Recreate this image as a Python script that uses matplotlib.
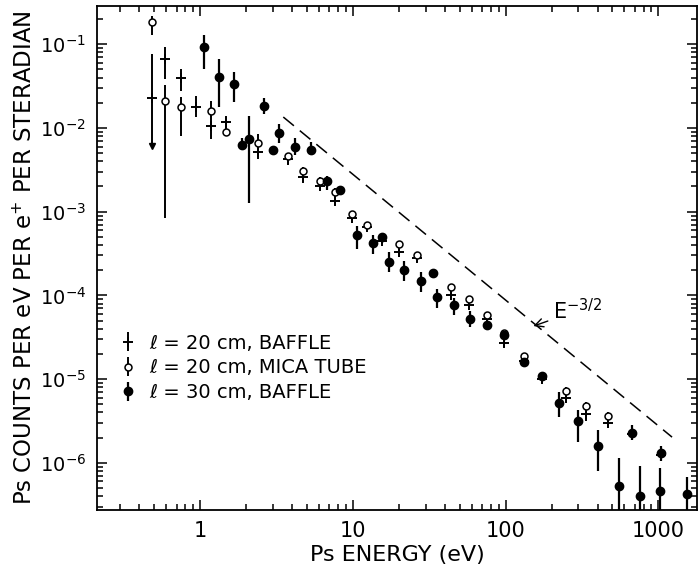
#!/usr/bin/env python3

import matplotlib
matplotlib.use('Agg')
import matplotlib.pyplot as plt
import numpy as np
from matplotlib import ticker

# l = 20 cm, baffle (crosses)
baffle20_e = [0.485, 0.59, 0.75, 0.94, 1.18, 1.48, 2.39, 3.76, 4.71, 6.09, 7.6, 9.85, 12.3, 15.5,
              20.0, 26.1, 43.6, 57.3, 75, 97, 131, 174, 250, 338, 470, 674, 1040]
baffle20_y = [0.0228, 0.066, 0.040, 0.018, 0.0106, 0.0118, 0.0052, 0.0042, 0.0026, 0.0020, 0.00135,
              8.3e-4, 6.5e-4, 4.5e-4, 3.3e-4, 2.8e-4, 1.0e-4, 7.6e-5, 5.2e-5, 2.7e-5, 1.65e-5,
              1.0e-5, 6.0e-6, 3.8e-6, 3.0e-6, 2.2e-6, 1.25e-6]
baffle20_lo = [0.0061, 0.038, 0.028, 0.0135, 0.0074, 0.0095, 0.0042, 0.0036, 0.0022, 0.0018, 0.0012,
               7.3e-4, 6.0e-4, 4.1e-4, 2.9e-4, 2.5e-4, 8.8e-5, 6.7e-5, 4.6e-5, 2.4e-5, 1.5e-5,
               9.0e-6, 5.2e-6, 3.2e-6, 2.6e-6, 1.9e-6, 1.05e-6]
baffle20_hi = [0.076, 0.092, 0.050, 0.024, 0.0139, 0.0139, 0.0068, 0.0048, 0.0029, 0.0023, 0.0016,
               9.5e-4, 7.0e-4, 5.0e-4, 3.8e-4, 3.1e-4, 1.15e-4, 8.6e-5, 5.8e-5, 3.0e-5, 1.8e-5,
               1.1e-5, 7.0e-6, 4.6e-6, 3.4e-6, 2.6e-6, 1.5e-6]
# lower limit arrow on the first baffle point
arrow_e = [0.485]
arrow_y = [0.0061]

# l = 20 cm, mica tube (open circles)
mica_e = [0.485, 0.59, 0.75, 1.18, 1.48, 2.39, 3.76, 4.71, 6.09, 7.6, 9.85, 12.3, 20.0, 26.1,
          43.6, 57.3, 75, 97, 131, 250, 338, 470]
mica_y = [0.183, 0.021, 0.0178, 0.0159, 0.0090, 0.0066, 0.0046, 0.0031, 0.00234, 0.00173, 9.5e-4,
          7.0e-4, 4.1e-4, 3.0e-4, 1.26e-4, 9.0e-5, 5.8e-5, 3.6e-5, 1.9e-5, 7.3e-6, 4.8e-6, 3.6e-6]
mica_lo = [0.128, 8.3e-4, 0.0080, 0.0135, 0.0080, 0.0058, 0.0042, 0.0028, 0.0021, 0.0016, 8.8e-4,
           6.5e-4, 3.8e-4, 2.8e-4, 1.15e-4, 8.3e-5, 5.4e-5, 3.3e-5, 1.75e-5, 6.6e-6, 4.2e-6, 3.2e-6]
mica_hi = [0.22, 0.033, 0.0234, 0.021, 0.0105, 0.0085, 0.0050, 0.0034, 0.0026, 0.0019, 1.0e-3,
           7.5e-4, 4.4e-4, 3.2e-4, 1.35e-4, 9.7e-5, 6.2e-5, 3.9e-5, 2.05e-5, 8.0e-6, 5.4e-6, 4.0e-6]

# l = 30 cm, baffle (filled circles)
baffle30_e = [1.06, 1.33, 1.67, 1.88, 2.09, 2.62, 3.0, 3.28, 4.17, 5.31, 6.76, 8.2, 10.6, 13.5, 15.5,
              17.2, 21.5, 28.1, 33.4, 35.3, 45.8, 58.2, 75, 97, 131, 174, 222, 296, 400, 550, 674,
              763, 1030, 1040, 1550]
baffle30_y = [0.092, 0.0405, 0.0334, 0.0063, 0.0074, 0.0183, 0.0055, 0.0087, 0.0059, 0.0055, 0.0023,
              0.0018, 5.2e-4, 4.2e-4, 5.0e-4, 2.5e-4, 2.0e-4, 1.5e-4, 1.87e-4, 9.5e-5, 7.6e-5,
              5.3e-5, 4.4e-5, 3.4e-5, 1.6e-5, 1.1e-5, 5.2e-6, 3.2e-6, 1.6e-6, 5.3e-7, 2.3e-6,
              4.0e-7, 4.6e-7, 1.3e-6, 4.2e-7]
baffle30_lo = [0.050, 0.0178, 0.0204, 0.0055, 0.00127, 0.0145, 0.0049, 0.0066, 0.0047, 0.0047,
               0.0018, 0.0016, 3.6e-4, 3.1e-4, 4.6e-4, 1.9e-4, 1.5e-4, 1.1e-4, 1.7e-4, 7.0e-5,
               5.8e-5, 4.2e-5, 4.0e-5, 3.1e-5, 1.45e-5, 1.0e-5, 3.5e-6, 1.8e-6, 8.0e-7, 1e-7,
               1.9e-6, 1e-7, 1e-7, 1.05e-6, 1e-7]
baffle30_hi = [0.13, 0.066, 0.046, 0.0075, 0.0139, 0.0225, 0.0061, 0.011, 0.0075, 0.0068, 0.0027,
               0.0020, 6.8e-4, 5.2e-4, 5.4e-4, 3.3e-4, 2.6e-4, 1.9e-4, 2.0e-4, 1.2e-4, 9.4e-5,
               6.5e-5, 4.8e-5, 3.7e-5, 1.75e-5, 1.2e-5, 7.0e-6, 4.3e-6, 2.5e-6, 1.15e-6, 2.8e-6,
               9.2e-7, 8.6e-7, 1.6e-6, 6.8e-7]

# E^-3/2 guide line, end points
guide_e = [3.5, 1230]
guide_y = [0.0135, 2.03e-6]

legend_labels = ['\u2113 = 20 cm, BAFFLE', '\u2113 = 20 cm, MICA TUBE', '\u2113 = 30 cm, BAFFLE']


def yerr(y, lo, hi):
    y = np.array(y)
    return [y - np.array(lo), np.array(hi) - y]


fig = plt.figure(figsize=(6.98, 5.69), dpi=100)
ax = fig.add_axes([0.139, 0.104, 0.860, 0.885])

ax.plot(guide_e, guide_y, color='black', lw=1.1, dashes=(9, 5))

h1 = ax.errorbar(baffle20_e, baffle20_y, yerr=yerr(baffle20_y, baffle20_lo, baffle20_hi),
                 fmt='+', color='black', ms=7, mew=1.4, elinewidth=1.4, capsize=0)
ax.plot(arrow_e, arrow_y, 'v', color='black', ms=5)
h2 = ax.errorbar(mica_e, mica_y, yerr=yerr(mica_y, mica_lo, mica_hi),
                 fmt='o', color='black', mfc='white', ms=5, mew=1.1, elinewidth=1.4, capsize=0)
h3 = ax.errorbar(baffle30_e, baffle30_y, yerr=yerr(baffle30_y, baffle30_lo, baffle30_hi),
                 fmt='o', color='black', ms=6, elinewidth=1.6, capsize=0)

ax.annotate('E$^{-3/2}$', xy=(152, 4.3e-5), xytext=(205, 6.6e-5), fontsize=15,
            ha='left', va='center',
            arrowprops=dict(arrowstyle='->', lw=1, color='black', shrinkA=2, shrinkB=0))

ax.set_xscale('log')
ax.set_yscale('log')
ax.set_xlim(0.211, 1800)
ax.set_ylim(2.75e-7, 0.284)

ax.set_yticks([1e-1, 1e-2, 1e-3, 1e-4, 1e-5, 1e-6])
ax.yaxis.set_major_formatter(ticker.LogFormatterMathtext())
ax.set_xticks([1, 10, 100, 1000])
ax.set_xticklabels(['1', '10', '100', '1000'])
ax.xaxis.set_minor_locator(ticker.LogLocator(subs=np.arange(2, 10), numticks=20))
ax.yaxis.set_minor_locator(ticker.LogLocator(subs=np.arange(2, 10), numticks=20))
ax.xaxis.set_minor_formatter(ticker.NullFormatter())
ax.yaxis.set_minor_formatter(ticker.NullFormatter())
ax.tick_params(which='both', direction='in', top=True, right=True, width=1.1)
ax.tick_params(axis='x', labelsize=15)
ax.tick_params(axis='y', labelsize=14)
ax.tick_params(which='major', length=7, pad=8)
ax.tick_params(which='minor', length=4)
for s in ax.spines.values():
    s.set_linewidth(1.3)

ax.set_xlabel('Ps ENERGY (eV)', fontsize=16, labelpad=3)
ax.set_ylabel('Ps COUNTS PER eV PER e$^{+}$ PER STERADIAN', fontsize=16.5, labelpad=2)

ax.legend([h1, h2, h3], legend_labels, loc='upper left', bbox_to_anchor=(0.035, 0.35),
          frameon=False, fontsize=14, handlelength=1.0, handletextpad=0.6,
          labelspacing=0.3, borderpad=0, borderaxespad=0)

fig.savefig('out.png', dpi=100)
